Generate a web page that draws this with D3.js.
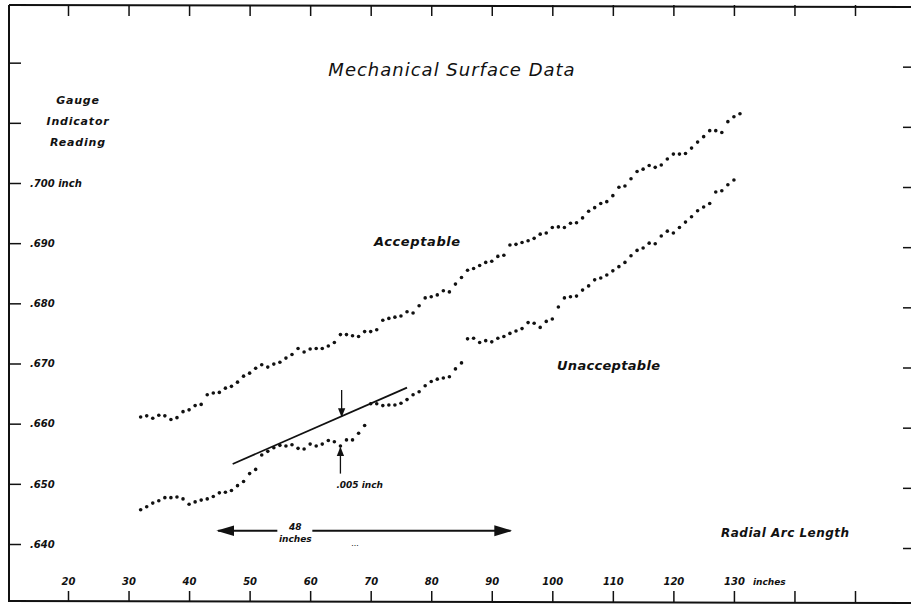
<!DOCTYPE html>
<html>
<head>
<meta charset="utf-8">
<style>
    body {
        margin: 0;
        background-color: #ffffff;
    }
    svg text {
        font-family: "DejaVu Sans", sans-serif;
        font-style: italic;
        fill: #111;
    }
</style>
<script src="https://cdn.jsdelivr.net/npm/d3@7"></script>
</head>
<body>
<svg id="chart"></svg>
<script>
// readings, one dot per inch of radial arc length
let firstInch = 32

let acceptable = [
    .6611, .6613, .6609, .6614, .6613, .6607, .6610, .6620, .6623, .6630,
    .6632, .6648, .6651, .6652, .6659, .6662, .6669, .6679, .6684, .6692,
    .6698, .6694, .6699, .6702, .6709, .6715, .6725, .6719, .6724, .6725,
    .6725, .6729, .6735, .6748, .6748, .6746, .6745, .6753, .6753, .6756,
    .6772, .6775, .6777, .6779, .6786, .6784, .6796, .6809, .6811, .6814,
    .6821, .6819, .6832, .6843, .6855, .6858, .6863, .6868, .6870, .6878,
    .6880, .6897, .6898, .6901, .6904, .6908, .6915, .6917, .6926, .6927,
    .6926, .6933, .6934, .6942, .6953, .6959, .6966, .6969, .6979, .6993,
    .6995, .7007, .7019, .7023, .7029, .7026, .7030, .7040, .7048, .7048,
    .7049, .7058, .7068, .7077, .7087, .7087, .7084, .7102, .7110, .7115
]

let unacceptable = [
    .6457, .6462, .6468, .6472, .6477, .6477, .6478, .6475, .6466, .6470,
    .6473, .6475, .6479, .6485, .6486, .6489, .6497, .6504, .6517, .6524,
    .6548, .6554, .6560, .6564, .6563, .6565, .6559, .6558, .6566, .6563,
    .6566, .6572, .6570, .6563, .6573, .6573, .6584, .6597, .6633, .6633,
    .6630, .6631, .6631, .6634, .6640, .6648, .6653, .6663, .6670, .6674,
    .6676, .6678, .6691, .6701, .6741, .6742, .6735, .6738, .6736, .6742,
    .6745, .6750, .6754, .6758, .6768, .6767, .6760, .6770, .6774, .6794,
    .6809, .6811, .6812, .6822, .6829, .6839, .6842, .6847, .6854, .6861,
    .6868, .6879, .6888, .6892, .6900, .6899, .6912, .6920, .6917, .6926,
    .6935, .6944, .6954, .6960, .6966, .6985, .6987, .6997, .7005
]

let xTicks = [20, 30, 40, 50, 60, 70, 80, 90, 100, 110, 120, 130, 140, 150]
let xLabels = ["20", "30", "40", "50", "60", "70", "80", "90", "100", "110", "120", "130", "", ""]
let yTicks = [.640, .650, .660, .670, .680, .690, .700, .710, .720]
let yLabels = [".640", ".650", ".660", ".670", ".680", ".690", ".700 inch", "", ""]

// straight edge drawn against the low readings, and the .005 gap arrows
let edgeLine = [{ inch: 47.2, v: .6533 }, { inch: 76.0, v: .6660 }]
let downArrow = [{ inch: 65.2, v: .6656 }, { inch: 65.2, v: .6612 }]
let upArrow = [{ inch: 65.0, v: .6517 }, { inch: 65.0, v: .6560 }]
let spanArrow = { from: 44.8, to: 93.1, v: .6422, label: ["48", "inches"] }

let width = 911
let height = 614
let frame = { left: 9, top: 5, right: 911, bottom: 602 }

let svg = d3.select("#chart")
    .attr("width", width)
    .attr("height", height)

let x = d3.scaleLinear().domain([20, 150]).range([68, 855])
let y = d3.scaleLinear().domain([.640, .700]).range([544, 183])

function toPoints(values) {
    return values.map((v, i) => ({ inch: firstInch + i, v: v }))
}

function drawFrame() {
    let g = svg.append("g").attr("stroke", "#111").attr("stroke-width", 2)
    g.append("line").attr("x1", frame.left).attr("y1", frame.top).attr("x2", frame.right).attr("y2", frame.top + 2)
    g.append("line").attr("x1", frame.left).attr("y1", frame.top).attr("x2", frame.left).attr("y2", frame.bottom)
    g.append("line").attr("x1", frame.left).attr("y1", frame.bottom - 1).attr("x2", frame.right).attr("y2", frame.bottom + 1)
}

function styleAxis(g) {
    g.select(".domain").remove()
    g.selectAll(".tick line").attr("stroke", "#111").attr("stroke-width", 1.5)
    g.selectAll(".tick text")
        .attr("fill", "#111")
        .style("font-family", "DejaVu Sans, sans-serif")
        .style("font-style", "italic")
        .style("font-weight", "bold")
        .style("font-size", "10px")
}

function drawAxes() {
    // ticks along the top edge
    svg.append("g")
        .attr("transform", `translate(0,${frame.top})`)
        .call(d3.axisBottom(x).tickValues(xTicks).tickSize(11).tickFormat(""))
        .call(styleAxis)

    // bottom edge with labels above the ticks
    svg.append("g")
        .attr("transform", `translate(0,${frame.bottom})`)
        .call(d3.axisTop(x).tickValues(xTicks).tickSize(11).tickPadding(6)
            .tickFormat((d, i) => xLabels[i]))
        .call(styleAxis)

    svg.append("text")
        .attr("x", x(130) + 19)
        .attr("y", frame.bottom - 17)
        .attr("font-size", 9)
        .attr("font-weight", "bold")
        .text("inches")

    // left edge
    svg.append("g")
        .attr("transform", `translate(${frame.left},0)`)
        .call(d3.axisRight(y).tickValues(yTicks).tickSize(12).tickPadding(9)
            .tickFormat((d, i) => yLabels[i]))
        .call(styleAxis)
        .selectAll(".tick text").attr("text-anchor", "start")

    // right edge, ticks only
    svg.append("g")
        .attr("transform", `translate(${frame.right},4)`)
        .call(d3.axisLeft(y).tickValues(yTicks).tickSize(8).tickFormat(""))
        .call(styleAxis)
}

function drawDots(values) {
    svg.append("g")
        .selectAll("circle")
        .data(toPoints(values))
        .enter().append("circle")
        .attr("cx", d => x(d.inch))
        .attr("cy", d => y(d.v))
        .attr("r", 1.8)
        .attr("fill", "#111")
}

function drawNotes() {
    let defs = svg.append("defs")
    defs.append("marker")
        .attr("id", "head")
        .attr("viewBox", "0 0 10 10")
        .attr("refX", 9).attr("refY", 5)
        .attr("markerWidth", 7).attr("markerHeight", 7)
        .attr("orient", "auto")
        .append("path").attr("d", "M0,1 L10,5 L0,9 Z").attr("fill", "#111")
    defs.append("marker")
        .attr("id", "bighead")
        .attr("viewBox", "0 0 10 10")
        .attr("refX", 9).attr("refY", 5)
        .attr("markerWidth", 10).attr("markerHeight", 10)
        .attr("orient", "auto")
        .append("path").attr("d", "M0,2 L10,5 L0,8 Z").attr("fill", "#111")

    let line = d3.line().x(d => x(d.inch)).y(d => y(d.v))

    svg.append("path").attr("d", line(edgeLine))
        .attr("stroke", "#111").attr("stroke-width", 1.8).attr("fill", "none")
    svg.append("path").attr("d", line(downArrow))
        .attr("stroke", "#111").attr("stroke-width", 1.3).attr("marker-end", "url(#head)")
    svg.append("path").attr("d", line(upArrow))
        .attr("stroke", "#111").attr("stroke-width", 1.3).attr("marker-end", "url(#head)")

    svg.append("text")
        .attr("x", x(upArrow[0].inch) - 4)
        .attr("y", y(upArrow[0].v) + 14)
        .attr("font-size", 9).attr("font-weight", "bold")
        .text(".005 inch")

    // span arrow broken around its label
    let mid = (x(spanArrow.from) + x(spanArrow.to)) / 2 - 71
    let sy = y(spanArrow.v)
    svg.append("line")
        .attr("x1", mid - 16).attr("y1", sy).attr("x2", x(spanArrow.from)).attr("y2", sy)
        .attr("stroke", "#111").attr("stroke-width", 1.8).attr("marker-end", "url(#bighead)")
    svg.append("line")
        .attr("x1", mid + 19).attr("y1", sy).attr("x2", x(spanArrow.to)).attr("y2", sy)
        .attr("stroke", "#111").attr("stroke-width", 1.8).attr("marker-end", "url(#bighead)")
    svg.append("text").attr("x", mid + 2).attr("y", sy - 1)
        .attr("text-anchor", "middle").attr("font-size", 9).attr("font-weight", "bold")
        .text(spanArrow.label[0])
    svg.append("text").attr("x", mid + 2).attr("y", sy + 11)
        .attr("text-anchor", "middle").attr("font-size", 9).attr("font-weight", "bold")
        .text(spanArrow.label[1])
    svg.append("text").attr("x", mid + 62).attr("y", sy + 15)
        .attr("text-anchor", "middle").attr("font-size", 8)
        .text("...")
}

function drawLabels() {
    svg.append("text")
        .attr("x", 452).attr("y", 76)
        .attr("text-anchor", "middle")
        .attr("font-size", 18)
        .attr("letter-spacing", 1)
        .text("Mechanical  Surface  Data")

    let yTitle = ["Gauge", "Indicator", "Reading"]
    svg.append("g").selectAll("text")
        .data(yTitle)
        .enter().append("text")
        .attr("x", 78)
        .attr("y", (d, i) => 104 + i * 21)
        .attr("text-anchor", "middle")
        .attr("font-size", 11)
        .attr("font-weight", "bold")
        .attr("letter-spacing", 0.8)
        .text(d => d)

    svg.append("text").attr("x", 374).attr("y", 246)
        .attr("font-size", 13).attr("font-weight", "bold").attr("letter-spacing", 0.6)
        .text("Acceptable")
    svg.append("text").attr("x", 557).attr("y", 370)
        .attr("font-size", 13).attr("font-weight", "bold").attr("letter-spacing", 0.3)
        .text("Unacceptable")
    svg.append("text").attr("x", 721).attr("y", 537)
        .attr("font-size", 12).attr("font-weight", "bold").attr("letter-spacing", 0.5)
        .text("Radial  Arc  Length")
}

drawFrame()
drawAxes()
drawDots(acceptable)
drawDots(unacceptable)
drawNotes()
drawLabels()
</script>
</body>
</html>
